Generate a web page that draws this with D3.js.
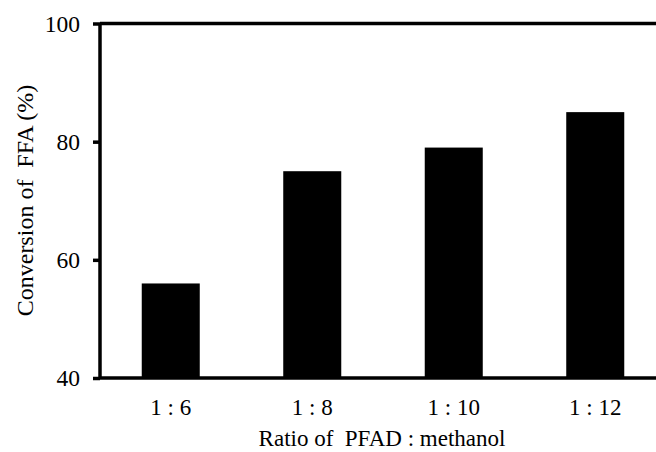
<!DOCTYPE html>
<html>
<head>
<meta charset="utf-8">
<script src="https://cdn.jsdelivr.net/npm/d3@7"></script>
<style>
  body { margin: 0; background: #fff; }
</style>
</head>
<body>
<svg id="graphic-svg" width="656" height="452"></svg>
<script>
// data
var ratios = ["1 : 6", "1 : 8", "1 : 10", "1 : 12"];
var conversion = [56, 75, 79, 85];
var yTicks = [40, 60, 80, 100];

function init() {
  var svg = d3.select("#graphic-svg");
  var margin = { left: 100, top: 23.5, bottom: 74 };
  var height = 452;
  var serif = "'Liberation Serif', 'Times New Roman', serif";

  // plot runs off the right edge of the picture
  var x = d3.scaleBand()
    .domain(ratios)
    .range([margin.left, 666])
    .paddingInner(0.59)
    .paddingOuter(0.295);

  var y = d3.scaleLinear()
    .domain([40, 100])
    .range([height - margin.bottom, margin.top]);

  // Bars
  svg.selectAll(".bar")
     .data(conversion)
     .enter()
     .append("rect")
     .attr("class", "bar")
     .attr("x", function(d, i) { return x(ratios[i]); })
     .attr("width", x.bandwidth())
     .attr("y", function(d) { return y(d); })
     .attr("height", function(d) { return y(40) - y(d); })
     .attr("fill", "#000");

  // Y axis
  var yAxis = svg.append("g")
     .attr("transform", "translate(" + margin.left + ",0)")
     .call(d3.axisLeft(y).tickValues(yTicks).tickSize(7).tickPadding(13));
  yAxis.attr("font-family", serif);
  yAxis.select(".domain").attr("stroke-width", 3.5).attr("d",
     "M0," + y(40) + "V" + y(100));
  yAxis.selectAll(".tick line").attr("stroke-width", 3.5);
  yAxis.selectAll(".tick text").attr("font-size", 23.5).style("font-family", serif);

  // X axis
  var xAxis = svg.append("g")
     .attr("transform", "translate(0," + y(40) + ")")
     .call(d3.axisBottom(x).tickSize(0).tickPadding(21));
  xAxis.attr("font-family", serif);
  xAxis.select(".domain").attr("stroke-width", 3.5).attr("d",
     "M" + margin.left + ",0H666");
  xAxis.selectAll(".tick text").attr("font-size", 23).style("font-family", serif);

  // top frame line
  svg.append("line")
     .attr("x1", margin.left)
     .attr("x2", 666)
     .attr("y1", y(100))
     .attr("y2", y(100))
     .attr("stroke", "#000")
     .attr("stroke-width", 3.5);

  // Titles
  svg.append("text")
     .attr("x", 382)
     .attr("y", 446)
     .attr("text-anchor", "middle")
     .style("font-family", serif)
     .style("font-size", "23px")
     .style("white-space", "pre")
     .text("Ratio of  PFAD : methanol");

  svg.append("text")
     .attr("transform", "translate(33,200.5) rotate(-90)")
     .attr("text-anchor", "middle")
     .style("font-family", serif)
     .style("font-size", "24px")
     .style("white-space", "pre")
     .text("Conversion of  FFA (%)");
}

init();
</script>
</body>
</html>
